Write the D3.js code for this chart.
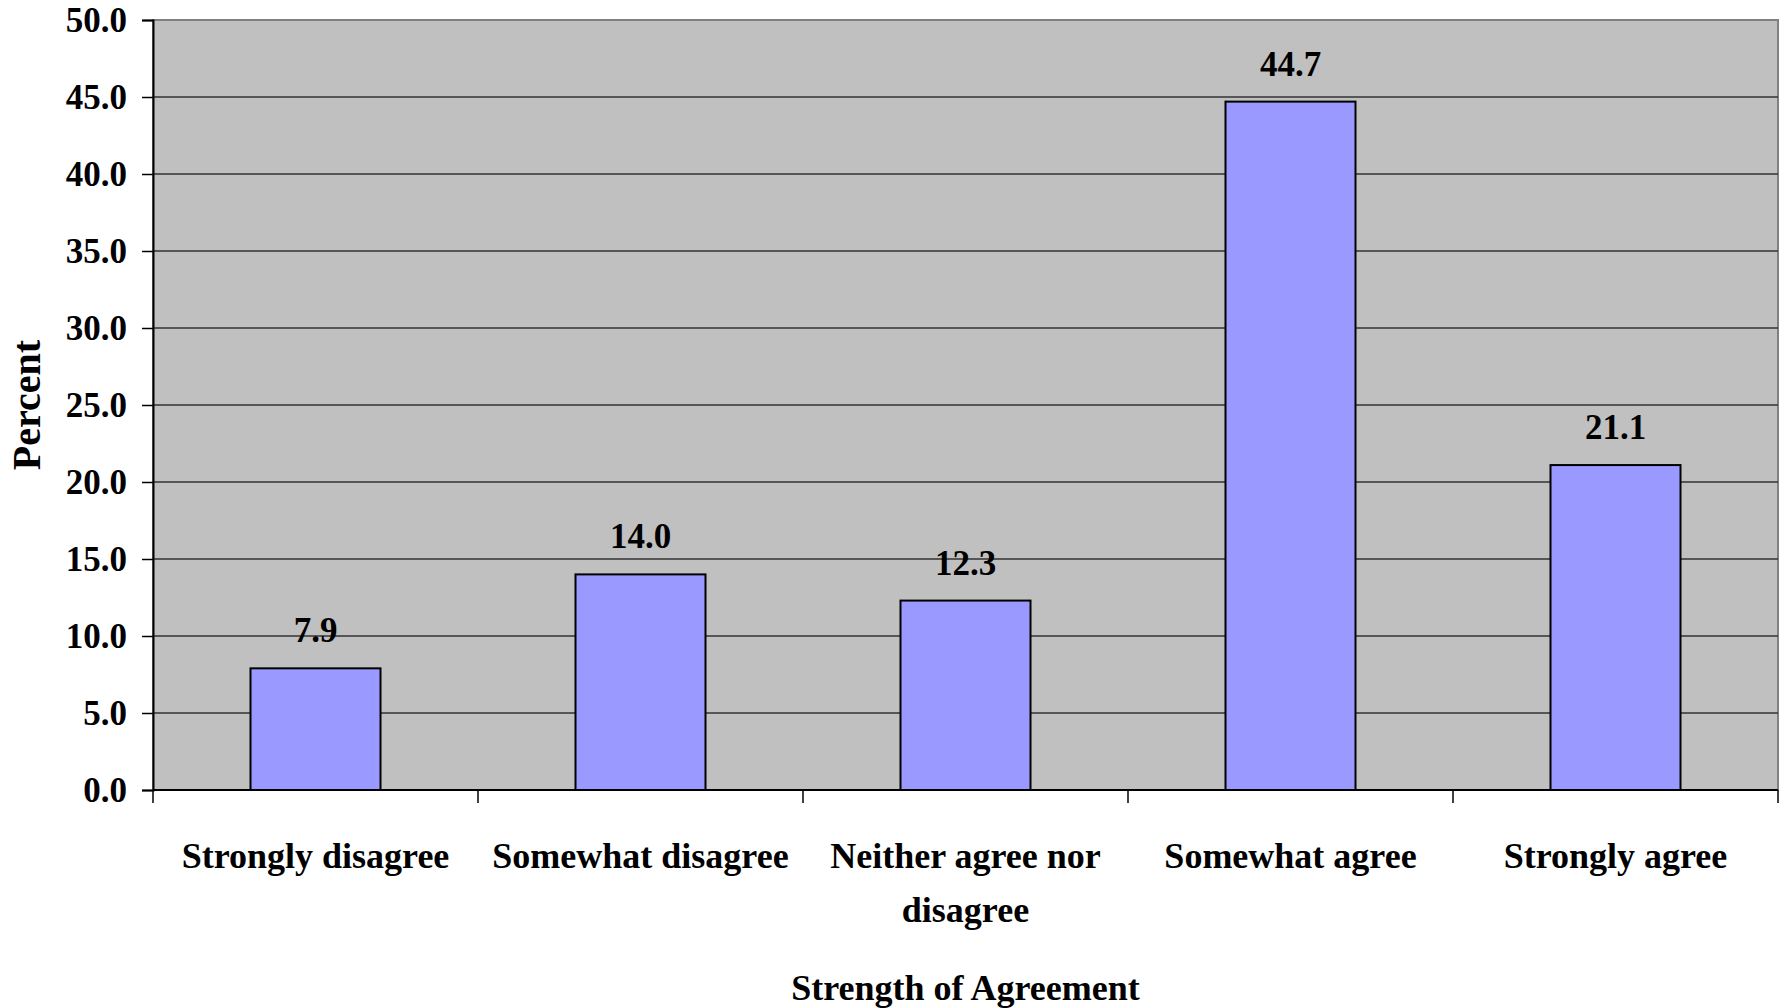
<!DOCTYPE html>
<html>
<head>
<meta charset="utf-8">
<script src="https://cdn.jsdelivr.net/npm/d3@7"></script>
<style>
  body { margin: 0; background: #fff; }
  text { font-family: "Liberation Serif", "Times New Roman", serif; fill: #000; }
</style>
</head>
<body>
<div id="chart"></div>
<script>
// chart data
const categories = [
  ["Strongly disagree"],
  ["Somewhat disagree"],
  ["Neither agree nor", "disagree"],
  ["Somewhat agree"],
  ["Strongly agree"],
];
const values = [7.9, 14.0, 12.3, 44.7, 21.1];
const yTicks = [0, 5, 10, 15, 20, 25, 30, 35, 40, 45, 50];

const width = 1785, height = 1008;
const margin = { top: 20, right: 7, bottom: 218, left: 153 };

const svg = d3.select("#chart").append("svg")
  .attr("width", width)
  .attr("height", height);

const x = d3.scaleBand()
  .domain(d3.range(categories.length))
  .range([margin.left, width - margin.right])
  .paddingInner(0.6)
  .paddingOuter(0.3);

const y = d3.scaleLinear()
  .domain([0, 50])
  .range([height - margin.bottom, margin.top]);

// plot area
svg.append("rect")
  .attr("x", margin.left)
  .attr("y", margin.top)
  .attr("width", width - margin.right - margin.left)
  .attr("height", y(0) - margin.top)
  .attr("fill", "#c0c0c0")
  .attr("stroke", "#808080")
  .attr("stroke-width", 2);

// gridlines
svg.append("g")
  .selectAll("line")
  .data(yTicks.slice(1, -1))
  .join("line")
  .attr("x1", margin.left)
  .attr("x2", width - margin.right)
  .attr("y1", d => y(d))
  .attr("y2", d => y(d))
  .attr("stroke", "#333")
  .attr("stroke-width", 1.5);

// y axis
const yAxis = svg.append("g")
  .attr("transform", `translate(${margin.left},0)`)
  .call(d3.axisLeft(y).tickValues(yTicks).tickFormat(d3.format(".1f")).tickSize(11).tickPadding(15));
yAxis.select(".domain").attr("stroke", "#000").attr("stroke-width", 2);
yAxis.selectAll(".tick line").attr("stroke", "#000").attr("stroke-width", 1.5);
yAxis.selectAll(".tick text")
  .attr("font-size", 35)
  .attr("font-weight", "bold")
  .attr("font-family", "Liberation Serif")
  .attr("dy", "0.33em");

// x axis
const boundaries = d3.range(categories.length + 1);
const step = x.step();
svg.append("line")
  .attr("x1", margin.left).attr("x2", width - margin.right)
  .attr("y1", y(0)).attr("y2", y(0))
  .attr("stroke", "#000").attr("stroke-width", 2);
svg.append("g")
  .selectAll("line")
  .data(boundaries)
  .join("line")
  .attr("x1", d => margin.left + d * step)
  .attr("x2", d => margin.left + d * step)
  .attr("y1", y(0))
  .attr("y2", y(0) + 13)
  .attr("stroke", "#000")
  .attr("stroke-width", 1.5);

// bars
svg.append("g")
  .selectAll("rect")
  .data(values)
  .join("rect")
  .attr("x", (d, i) => x(i))
  .attr("y", d => y(d))
  .attr("width", x.bandwidth())
  .attr("height", d => y(0) - y(d))
  .attr("fill", "#9999ff")
  .attr("stroke", "#000")
  .attr("stroke-width", 2);

// value labels
svg.append("g")
  .selectAll("text")
  .data(values)
  .join("text")
  .attr("x", (d, i) => x(i) + x.bandwidth() / 2)
  .attr("y", d => y(d) - 26)
  .attr("text-anchor", "middle")
  .attr("font-size", 35)
  .attr("font-weight", "bold")
  .text(d => d3.format(".1f")(d));

// category labels
const catText = svg.append("g")
  .selectAll("text")
  .data(categories)
  .join("text")
  .attr("x", (d, i) => x(i) + x.bandwidth() / 2)
  .attr("y", 868)
  .attr("text-anchor", "middle")
  .attr("font-size", 36)
  .attr("font-weight", "bold");
catText.selectAll("tspan")
  .data(d => d)
  .join("tspan")
  .attr("x", function () { return d3.select(this.parentNode).attr("x"); })
  .attr("dy", (d, i) => i === 0 ? 0 : 54)
  .text(d => d);

// axis titles
svg.append("text")
  .attr("x", margin.left + (width - margin.right - margin.left) / 2)
  .attr("y", 1000)
  .attr("text-anchor", "middle")
  .attr("font-size", 36)
  .attr("font-weight", "bold")
  .text("Strength of Agreement");

svg.append("text")
  .attr("transform", `translate(40,${(margin.top + y(0)) / 2}) rotate(-90)`)
  .attr("text-anchor", "middle")
  .attr("font-size", 40)
  .attr("font-weight", "bold")
  .text("Percent");
</script>
</body>
</html>
